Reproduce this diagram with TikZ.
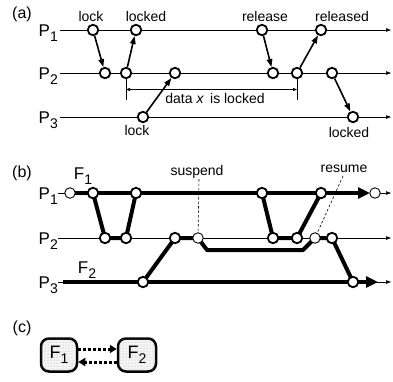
\documentclass[tikz,border=0pt]{standalone}
\usepackage{fontspec}
\setmainfont{Liberation Sans}
\usetikzlibrary{arrows.meta,patterns}
\newcommand{\Psub}[2]{#1\raisebox{-4.5pt}{\fontsize{14}{14}\selectfont #2}}
\begin{document}
\begin{tikzpicture}[x=1pt,y=-1pt,
 ev/.style={circle,draw,line width=1.8pt,fill=white,inner sep=0pt,minimum size=10.5pt},
 sev/.style={circle,draw,line width=0.9pt,fill=white,inner sep=0pt,minimum size=10.5pt},
 pline/.style={line width=0.6pt,-{Triangle[length=5pt,width=3.5pt]}},
 msg/.style={line width=1.6pt,-{Triangle[length=8pt,width=5.5pt]}},
 lbl/.style={font=\fontsize{14}{15}\selectfont, inner sep=0pt},
 plbl/.style={font=\fontsize{17}{18}\selectfont, inner sep=0pt},
 part/.style={font=\fontsize{16}{17}\selectfont, inner sep=0pt},
 fat/.style={line width=4pt, line join=round},
 fatarrow/.style={line width=4pt,-{Triangle[length=12pt,width=11pt]}},
 dsh/.style={line width=0.6pt,dash pattern=on 2.5pt off 2pt},
 fbox/.style={draw,line width=2.5pt,rounded corners=8pt,fill=gray!8,
   postaction={pattern=dots,pattern color=gray!70},
   minimum width=36pt,minimum height=33pt,inner sep=0pt,font=\fontsize{18}{18}\selectfont},
 dotarrow/.style={line width=3pt,dash pattern=on 3pt off 2pt,-{Triangle[length=7pt,width=8pt]}}
]
\useasboundingbox (0,0) rectangle (393,381);
% ---------------- (a)
\node[part] (la) at (22,14) {(a)};
\foreach \n/\y/\i in {pa1/30/1,pa2/73/2,pa3/117/3}{
  \node[plbl,anchor=east] (\n) at (58,\y+3) {\Psub{P}{\i}};
  \coordinate (\n s) at (60,\y);
  \coordinate (\n e) at (391,\y);
  \draw[pline] (\n s) -- (\n e);
}
\node[ev] (a1) at (93,30) {};
\node[ev] (a2) at (136,30) {};
\node[ev] (a3) at (262,30) {};
\node[ev] (a4) at (321,30) {};
\node[ev] (b1) at (105,73) {};
\node[ev] (b2) at (126,73) {};
\node[ev] (b3) at (175,73) {};
\node[ev] (b4) at (273,73) {};
\node[ev] (b5) at (297,73) {};
\node[ev] (b6) at (332,73) {};
\node[ev] (c1) at (143,117) {};
\node[ev] (c2) at (353,117) {};
\draw[msg] (a1) -- (b1);
\draw[msg] (b2) -- (a2);
\draw[msg] (c1) -- (b3);
\draw[msg] (a3) -- (b4);
\draw[msg] (b5) -- (a4);
\draw[msg] (b6) -- (c2);
\node[lbl,anchor=base] (tlock1) at (91,21) {lock};
\node[lbl,anchor=base] (tlocked1) at (146,21) {locked};
\node[lbl,anchor=base] (trel) at (265,21) {release};
\node[lbl,anchor=base] (treld) at (342,21) {released};
\node[lbl,anchor=base] (tlock3) at (137,135) {lock};
\node[lbl,anchor=base] (tlocked3) at (349,137) {locked};
\coordinate (k1) at (126,100);
\coordinate (k2) at (297,100);
\coordinate (h1) at (126,89.5);
\coordinate (h2) at (297,89.5);
\draw[line width=0.6pt] (b2) -- (k1);
\draw[line width=0.6pt] (b5) -- (k2);
\draw[line width=0.6pt,{Triangle[length=4pt,width=3pt]}-{Triangle[length=4pt,width=3pt]}] (h1) -- (h2);
\node[lbl,anchor=base] (tdata) at (215,103) {data \textit{x}\, is locked};
% ---------------- (b)
\node[part] (lb) at (22,173) {(b)};
\node[plbl] (f1) at (83,176) {\Psub{F}{1}};
\node[plbl] (f2) at (87,270) {\Psub{F}{2}};
\foreach \n/\y/\i in {pb1/193/1,pb2/238/2,pb3/282/3}{
  \node[plbl,anchor=east] (\n) at (58,\y+3) {\Psub{P}{\i}};
}
\coordinate (q1s) at (58,193);
\coordinate (q1c) at (70,193);
\coordinate (q1t) at (370,193);
\coordinate (q1d) at (375,193);
\coordinate (q1e) at (391,193);
\coordinate (q2s) at (58,238);
\coordinate (q2e) at (391,238);
\coordinate (q3s) at (58,282);
\coordinate (q3f) at (63,282);
\coordinate (q3t) at (378,282);
\coordinate (q3e) at (391,282);
\coordinate (e1) at (93,193);
\coordinate (e2) at (136,193);
\coordinate (e3) at (262,193);
\coordinate (e4) at (321,193);
\coordinate (f1a) at (105,238);
\coordinate (f1b) at (126,238);
\coordinate (f2a) at (175,238);
\coordinate (sus) at (198,238);
\coordinate (f1c) at (273,238);
\coordinate (f1d) at (297,238);
\coordinate (res) at (315,238);
\coordinate (f2b) at (332,238);
\coordinate (g1) at (143,282);
\coordinate (g2) at (353,282);
\coordinate (w1) at (207,250);
\coordinate (w2) at (303,250);
% thin lines
\draw[line width=0.6pt] (q1s) -- (q1c);
\draw[pline] (q1d) -- (q1e);
\draw[pline] (q2s) -- (q2e);
\draw[pline] (q3s) -- (q3e);
% thick flows
\draw[fatarrow] (q1c) -- (q1t);
\draw[fat] (e1) -- (f1a) -- (f1b) -- (e2);
\draw[fat] (e3) -- (f1c) -- (f1d) -- (e4);
\draw[fatarrow] (q3f) -- (q3t);
\draw[fat] (g1) -- (f2a) -- (sus);
\draw[fat] (sus) -- (w1) -- (w2) -- (res) -- (f2b) -- (g2);
% dashed
\node[lbl,anchor=base] (tsus) at (197,175) {suspend};
\node[lbl,anchor=base] (tres) at (344,172) {resume};
\coordinate (ds1) at (199,179);
\coordinate (dr1) at (343,176);
\draw[dsh] (ds1) -- (sus);
\draw[dsh] (dr1) -- (res);
% circles
\node[sev] (n0) at (q1c) {};
\node[sev] (n9) at (q1d) {};
\foreach \c in {e1,e2,e3,e4,f1a,f1b,f2a,f1c,f1d,f2b,g1,g2}{
  \node[ev] (m\c) at (\c) {};
}
\node[sev] (msus) at (sus) {};
\node[sev] (mres) at (res) {};
% ---------------- (c)
\node[part] (lc) at (22,328) {(c)};
\node[fbox] (F1) at (59,355) {\Psub{F}{1}};
\node[fbox,minimum width=38pt] (F2) at (137,355) {\Psub{F}{2}};
\draw[dotarrow] ([yshift=6pt]F1.east) -- ([yshift=6pt]F2.west);
\draw[dotarrow] ([yshift=-7pt]F2.west) -- ([yshift=-7pt]F1.east);
\end{tikzpicture}
\end{document}
